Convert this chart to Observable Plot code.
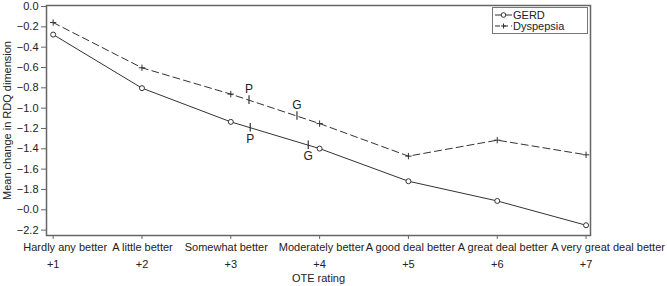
<!DOCTYPE html>
<html><head><meta charset="utf-8">
<script src="https://cdn.jsdelivr.net/npm/d3@7"></script>
<script src="https://cdn.jsdelivr.net/npm/@observablehq/plot@0.6"></script>
<style>
body{margin:0;background:#fff;font-family:"Liberation Sans",Arial,sans-serif;}
#wrap{position:relative;width:667px;height:286px;}
#wrap svg{display:block;overflow:visible;}
.legend{position:absolute;left:492px;top:7px;width:94px;height:25px;border:1px solid #777;background:#fff;}
</style></head><body><div id="wrap"></div>
<script>
const ratings = [1, 2, 3, 4, 5, 6, 7];
const categories = ["Hardly any better", "A little better", "Somewhat better", "Moderately better", "A good deal better", "A great deal better", "A very great deal better"];
const gerd = [-0.276, -0.803, -1.135, -1.398, -1.719, -1.913, -2.152];
const dyspepsia = [-0.158, -0.603, -0.862, -1.152, -1.472, -1.315, -1.459];
const yTicks = [0, -0.2, -0.4, -0.6, -0.8, -1.0, -1.2, -1.4, -1.6, -1.8, -2.0, -2.2];
const yTickLabels = ["0.0", "−0.2", "−0.4", "−0.6", "−0.8", "−1.0", "−1.2", "−1.4", "−1.6", "−1.8", "−0.0", "−2.2"];
const markLabels = ["P", "P", "G", "G"];
const markX = [3.205, 3.219, 3.745, 3.872];
const markY = [-0.921, -1.193, -1.078, -1.364];
const markSide = [-1, 1, -1, 1];

const gerdData = ratings.map((r, i) => ({x: r, y: gerd[i]}));
const dysData = ratings.map((r, i) => ({x: r, y: dyspepsia[i]}));
const marks = markLabels.map((l, i) => ({label: l, x: markX[i], y: markY[i], side: markSide[i]}));
const yLab = new Map(yTicks.map((v, i) => [v, yTickLabels[i]]));
const ink = "#333";
// horizontal nudges of the category labels (layout, as in the reference)
const catShift = [12, 0.5, -4.5, 2, 2, 5.5, 22];

const chart = Plot.plot({
  width: 667, height: 286,
  marginLeft: 46, marginRight: 77, marginTop: 5, marginBottom: 51,
  style: {fontFamily: "Liberation Sans, Arial, sans-serif", fontSize: "11px", color: "#222", background: "#fff", overflow: "visible"},
  x: {type: "linear", domain: [0.925, 7.05]},
  y: {domain: [-2.253, 0.01]},
  marks: [
    Plot.frame({stroke: "#666", strokeWidth: 1.5}),
    Plot.axisY(yTicks, {tickSize: 5, tickPadding: 3, tickFormat: d => yLab.get(d), label: null, stroke: "#666", fill: "#222"}),
    Plot.axisX(ratings, {tickSize: 4, tickPadding: 3, tickFormat: () => "", label: null, stroke: "#666"}),
    ...ratings.map((r, i) => Plot.text([r], {x: d => d, text: d => categories[d - 1], frameAnchor: "bottom", dy: 15, dx: catShift[i], fill: "#222"})),
    Plot.axisX(ratings, {tickSize: 0, tickPadding: 25, tickFormat: d => "+" + d, label: null, fill: "#222"}),
    Plot.text(["OTE rating"], {frameAnchor: "bottom", dy: 46, fill: "#222"}),
    Plot.text(["Mean change in RDQ dimension"], {frameAnchor: "left", textAnchor: "middle", dx: -39, rotate: -90, fill: "#222"}),
    Plot.line(dysData, {x: "x", y: "y", stroke: ink, strokeWidth: 1, strokeDasharray: "7,4"}),
    Plot.line(gerdData, {x: "x", y: "y", stroke: ink, strokeWidth: 1}),
    Plot.dot(dysData, {x: "x", y: "y", symbol: "plus", r: 2.2, stroke: ink, strokeWidth: 1}),
    Plot.dot(gerdData, {x: "x", y: "y", symbol: "circle", r: 2.5, stroke: ink, fill: "white", strokeWidth: 1}),
    Plot.ruleX(marks, {x: "x", y1: d => d.y - 0.042, y2: d => d.y + 0.042, stroke: ink, strokeWidth: 1.2}),
    Plot.text(marks.filter(d => d.side < 0), {x: "x", y: "y", text: "label", dy: -11, fill: "#222", fontSize: 12}),
    Plot.text(marks.filter(d => d.side > 0), {x: "x", y: "y", text: "label", dy: 11, fill: "#222", fontSize: 12})
  ]
});
const wrap = document.getElementById("wrap");
wrap.appendChild(chart);

const legend = document.createElement("div");
legend.className = "legend";
legend.innerHTML = `<svg width="94" height="25" style="font-family:'Liberation Sans',Arial,sans-serif;font-size:11px">
<line x1="2" x2="19" y1="7" y2="7" stroke="${ink}"/><circle cx="10.5" cy="7" r="2.3" fill="white" stroke="${ink}"/>
<text x="20" y="7" dy="0.35em" fill="#222">GERD</text>
<line x1="2" x2="19" y1="18" y2="18" stroke="${ink}" stroke-dasharray="5,3"/><path d="M8,18h5M10.5,15.5v5" stroke="${ink}"/>
<text x="20" y="18" dy="0.35em" fill="#222">Dyspepsia</text></svg>`;
wrap.appendChild(legend);
</script></body></html>
